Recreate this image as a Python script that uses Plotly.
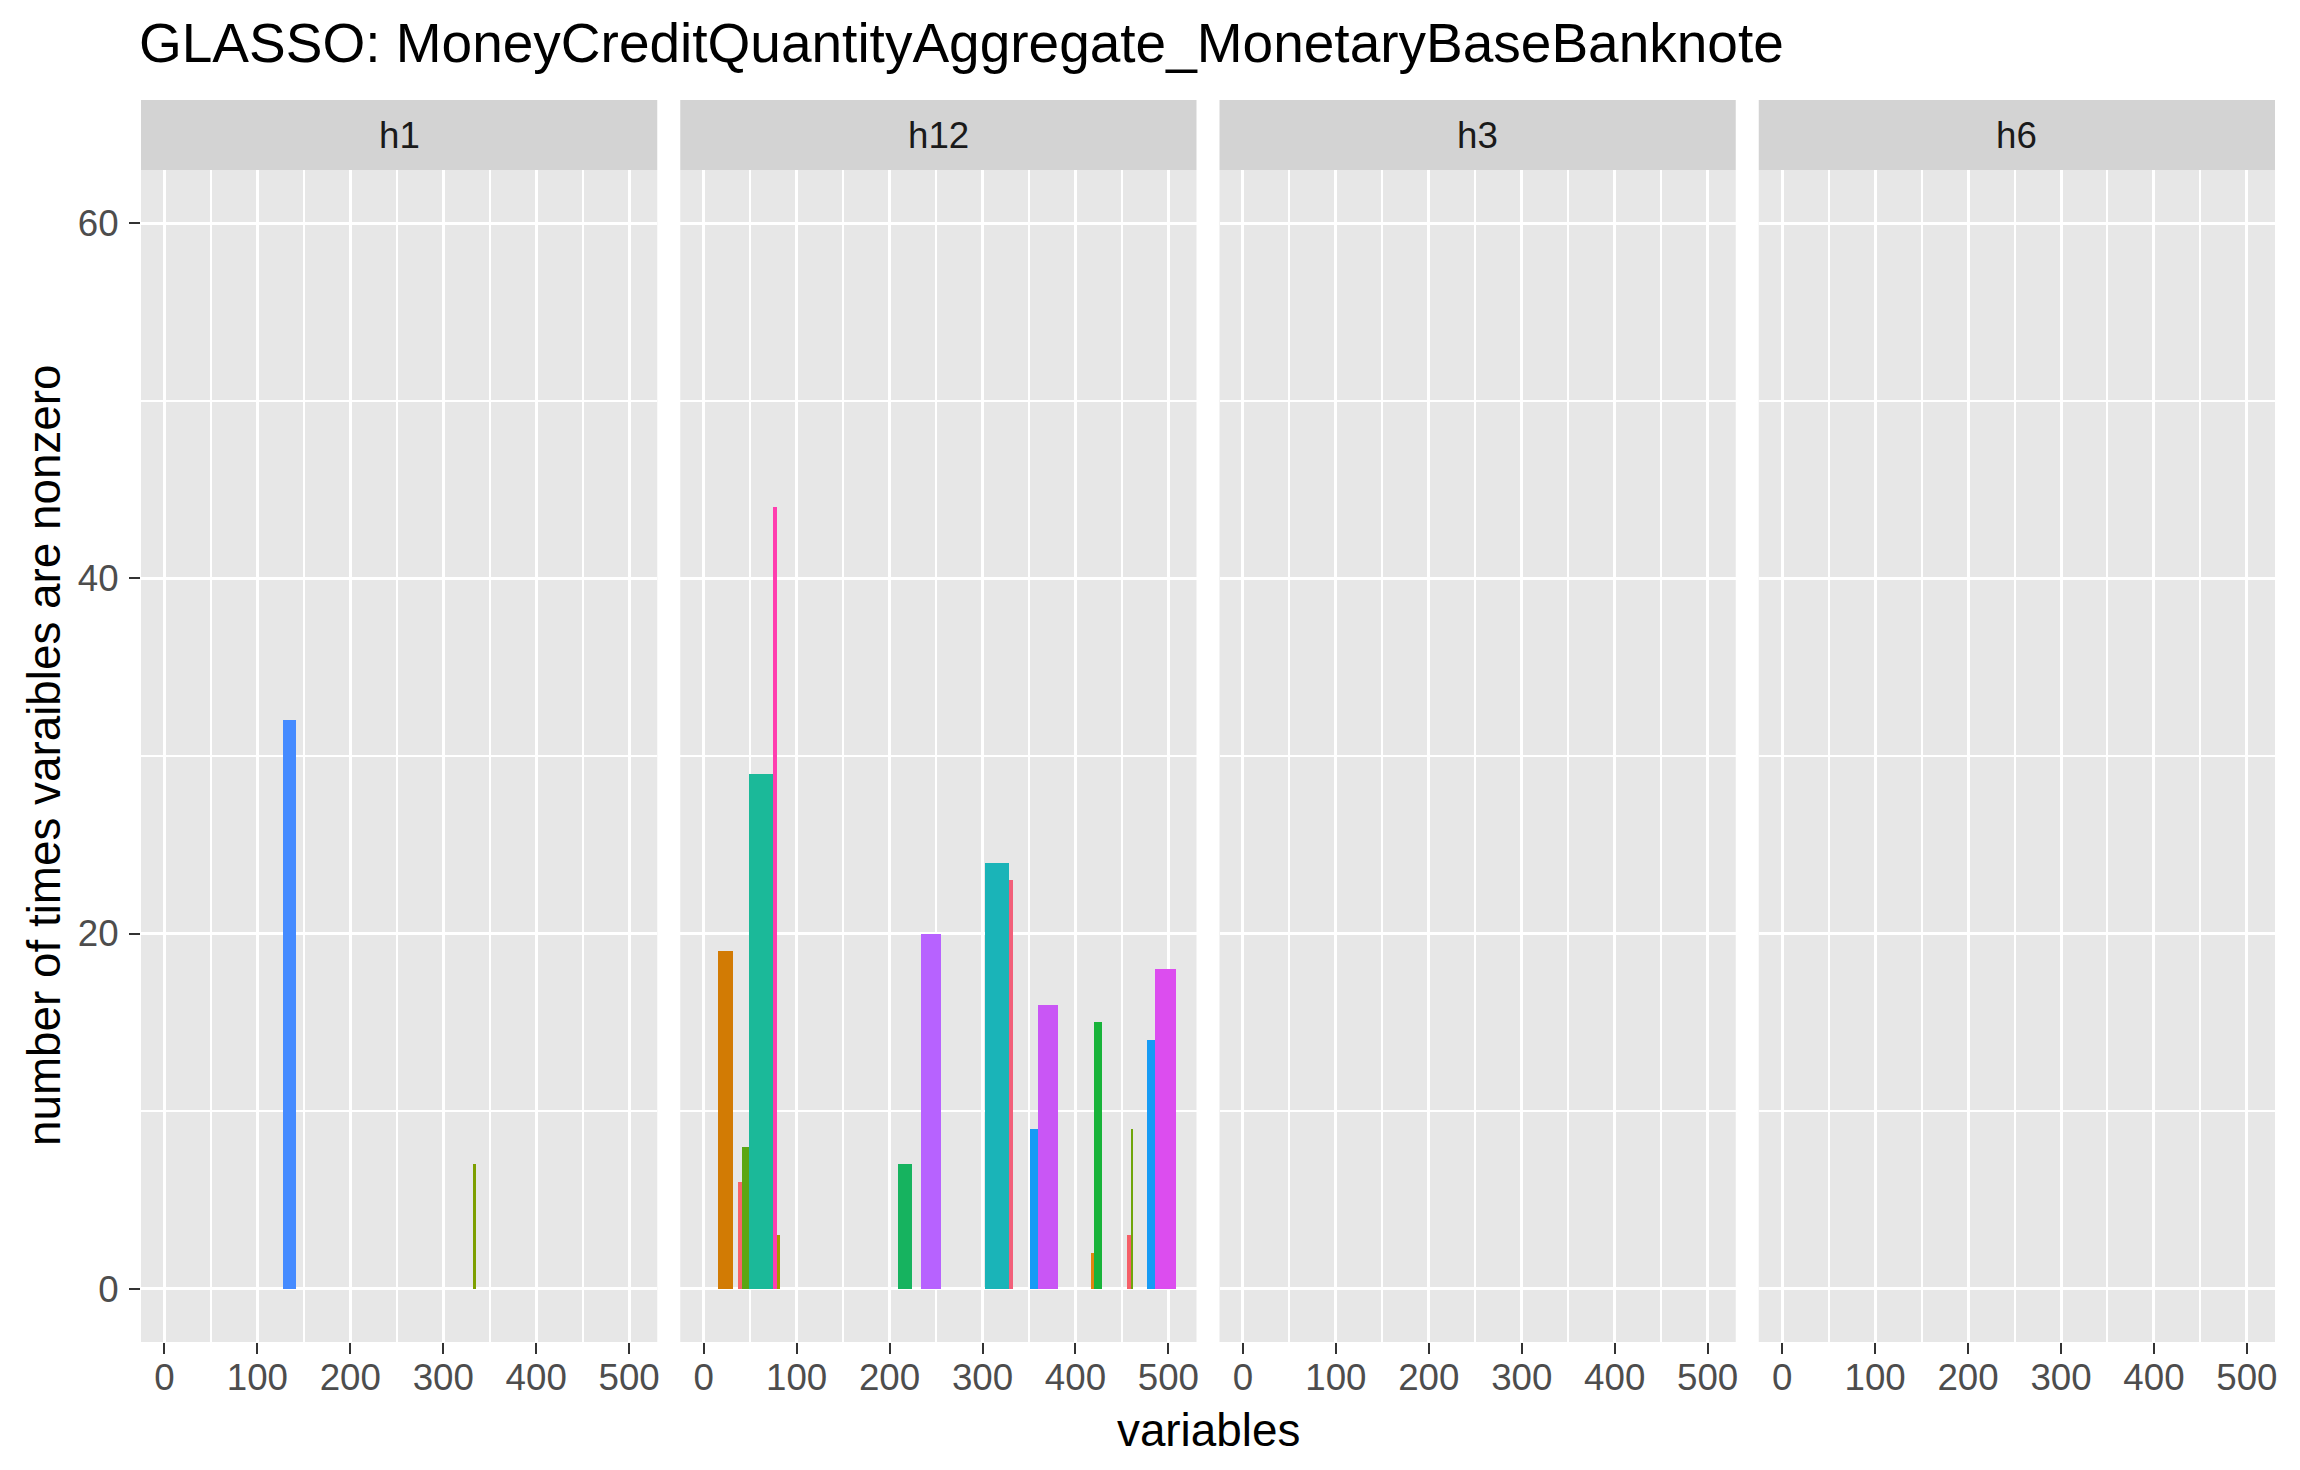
import plotly.graph_objects as go

# facet names (ggplot sorts them alphabetically)
facets = ["h1", "h12", "h3", "h6"]

# h1: variable index, bar width, count, fill
h1_vars = [134.5, 334.0]
h1_widths = [13.7, 3.0]
h1_counts = [32, 7]
h1_colors = ["#458BFF", "#7D9F00"]

# h12
h12_vars = [23.2, 38.9, 44.8, 61.6, 76.7, 80.4, 216.6, 244.4, 315.6, 330.9,
            355.8, 371.0, 419.0, 425.0, 457.6, 460.9, 481.7, 497.5]
h12_widths = [16.2, 4.3, 7.6, 25.9, 4.3, 3.2, 14.7, 21.6, 25.9, 4.6,
              8.9, 21.6, 3.3, 8.6, 4.4, 2.2, 9.0, 22.5]
h12_counts = [19, 6, 8, 29, 44, 3, 7, 20, 24, 23,
              9, 16, 2, 15, 3, 9, 14, 18]
h12_colors = ["#D27B04", "#F8626A", "#5BA612", "#1BB999", "#FF3EAF", "#A39A00",
              "#16B35F", "#B762FF", "#1AB4B8", "#F2607A", "#169BF5", "#C956F5",
              "#E08510", "#18B33A", "#F56068", "#6FA60C", "#169BF5", "#DC4DEF"]

# h3 and h6 have nothing nonzero
h3_vars, h3_widths, h3_counts, h3_colors = [], [], [], []
h6_vars, h6_widths, h6_counts, h6_colors = [], [], [], []

x_ticks = [0, 100, 200, 300, 400, 500]
y_ticks = [0, 20, 40, 60]

panels = [
    (h1_vars, h1_widths, h1_counts, h1_colors),
    (h12_vars, h12_widths, h12_counts, h12_colors),
    (h3_vars, h3_widths, h3_counts, h3_colors),
    (h6_vars, h6_widths, h6_counts, h6_colors),
]

# page body adds an 8px offset, so the figure is laid out 8px up/left
W, H = 2284, 1454
L, R, T, B = 133, 17, 92, 120
pw = W - L - R
ph = H - T - B
gap = 23
panel_w = (pw - 3 * gap) / 4
strip_h = 70
ytop = 1 - strip_h / ph

FONT = "Liberation Sans, Arial, Helvetica, sans-serif"

fig = go.Figure()

for i, (xs, ws, ys, cs) in enumerate(panels):
    sfx = "" if i == 0 else str(i + 1)
    fig.add_trace(go.Bar(
        x=xs, y=ys, width=ws,
        marker=dict(color=cs, line=dict(width=0)),
        xaxis="x" + sfx, yaxis="y" + sfx,
        showlegend=False, hoverinfo="x+y",
    ))

    x0 = i * (panel_w + gap) / pw
    x1 = (i * (panel_w + gap) + panel_w) / pw
    fig.layout["xaxis" + sfx] = dict(
        domain=[x0, x1], anchor="y" + sfx,
        range=[-25.25, 530.25],
        tickvals=x_ticks,
        showgrid=True, gridcolor="white", gridwidth=3.3,
        minor=dict(dtick=50, tick0=0, showgrid=True, gridcolor="white", gridwidth=1.7),
        ticks="outside", ticklen=11, tickwidth=2.2, tickcolor="#333333",
        ticklabelstandoff=-8,
        tickfont=dict(size=36.7, color="#4D4D4D", family=FONT),
        zeroline=False, showline=False,
    )
    ydict = dict(
        domain=[0, ytop], anchor="x" + sfx,
        range=[-3, 63],
        tickvals=y_ticks,
        showgrid=True, gridcolor="white", gridwidth=3.3,
        minor=dict(dtick=10, tick0=0, showgrid=True, gridcolor="white", gridwidth=1.7),
        zeroline=False, showline=False,
    )
    if i == 0:
        ydict.update(ticks="outside", ticklen=11, tickwidth=2.2, tickcolor="#333333",
                     ticklabelstandoff=3,
                     tickfont=dict(size=36.7, color="#4D4D4D", family=FONT))
    else:
        ydict.update(matches="y", showticklabels=False, ticks="")
    fig.layout["yaxis" + sfx] = ydict

    # facet strip
    fig.add_shape(type="rect", xref="x" + sfx + " domain", yref="paper",
                  x0=0, x1=1, y0=ytop, y1=1,
                  fillcolor="#D3D3D3", line=dict(width=0), layer="below")
    fig.add_annotation(text=facets[i], xref="x" + sfx + " domain", yref="paper",
                       x=0.5, y=(ytop + 1) / 2, showarrow=False,
                       xanchor="center", yanchor="middle",
                       font=dict(size=36.7, color="#1A1A1A", family=FONT))

# titles
fig.add_annotation(text="GLASSO: MoneyCreditQuantityAggregate_MonetaryBaseBanknote",
                   xref="paper", yref="paper", x=-4 / pw, y=(H - B - 35) / ph,
                   xanchor="left", yanchor="middle", showarrow=False,
                   font=dict(size=55, color="black", family=FONT))
fig.add_annotation(text="variables", xref="paper", yref="paper",
                   x=0.5, y=(H - B - 1422) / ph, xanchor="center", yanchor="middle",
                   showarrow=False, font=dict(size=45.8, color="black", family=FONT))
fig.add_annotation(text="number of times varaibles are nonzero", xref="paper", yref="paper",
                   x=(36 - L) / pw, y=ytop / 2, xanchor="center", yanchor="middle",
                   textangle=-90, showarrow=False,
                   font=dict(size=45.8, color="black", family=FONT))

fig.update_layout(
    width=W, height=H,
    margin=dict(l=L, r=R, t=T, b=B),
    plot_bgcolor="#E7E7E7", paper_bgcolor="white",
    barmode="overlay", bargap=0,
    font=dict(family=FONT),
)

fig.write_html("out.html")
